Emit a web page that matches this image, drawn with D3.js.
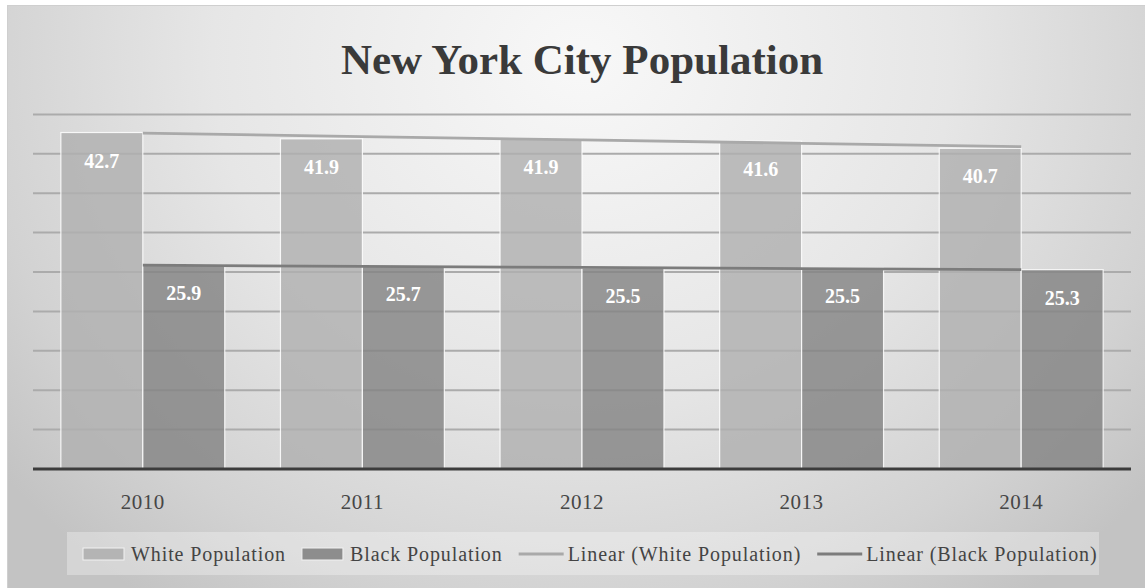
<!DOCTYPE html>
<html>
<head>
<meta charset="utf-8">
<script src="https://cdn.jsdelivr.net/npm/d3@7/dist/d3.min.js"></script>
<style>
  html, body { margin: 0; padding: 0; background: #ffffff; }
  svg { display: block; }
  text { font-family: "Liberation Serif", "Times New Roman", serif; }
</style>
</head>
<body>
<svg id="chart" width="1145" height="588"></svg>
<script>
// Chart data
const years = ["2010", "2011", "2012", "2013", "2014"];
const seriesNames = ["White Population", "Black Population"];
const whitePopulation = [42.7, 41.9, 41.9, 41.6, 40.7];
const blackPopulation = [25.9, 25.7, 25.5, 25.5, 25.3];
const yTicks = [0, 5, 10, 15, 20, 25, 30, 35, 40, 45];
const trendNames = ["Linear (White Population)", "Linear (Black Population)"];
const titleText = "New York City Population";

const W = 1145, H = 588;
const svg = d3.select("#chart");
const defs = svg.append("defs");

// Soft radial backdrop for the chart area
const grad = defs.append("radialGradient")
  .attr("id", "bg").attr("gradientUnits", "userSpaceOnUse")
  .attr("cx", 582).attr("cy", 60).attr("r", 740)
  .attr("gradientTransform", "translate(582,60) scale(1,0.9) translate(-582,-60)");
grad.append("stop").attr("offset", "0").attr("stop-color", "#f8f8f8");
grad.append("stop").attr("offset", "0.5").attr("stop-color", "#e6e6e6");
grad.append("stop").attr("offset", "0.82").attr("stop-color", "#d2d2d2");
grad.append("stop").attr("offset", "1").attr("stop-color", "#c3c3c3");

svg.append("rect")
  .attr("x", 7.5).attr("y", 5.5).attr("width", W).attr("height", H)
  .attr("fill", "url(#bg)")
  .attr("stroke", "#cfcfcf").attr("stroke-width", 1);

// Plot geometry
const plot = { left: 33, right: 1131, top: 114.4, bottom: 469 };

const x = d3.scaleBand().domain(years).range([plot.left, plot.right]).paddingInner(0).paddingOuter(0);
const xSub = d3.scaleBand().domain(seriesNames).range([0, x.bandwidth()]).paddingInner(0).paddingOuter(0.34);
const y = d3.scaleLinear().domain([0, 45]).range([plot.bottom, plot.top]);

// Horizontal gridlines
svg.append("g")
  .selectAll("line")
  .data(yTicks.filter(d => d > 0))
  .join("line")
  .attr("x1", plot.left).attr("x2", plot.right)
  .attr("y1", d => y(d)).attr("y2", d => y(d))
  .attr("stroke", "#ababab").attr("stroke-width", 2);

// Bars
const seriesValues = [whitePopulation, blackPopulation];
const barColors = ["#b0b0b0", "#848484"];
const barData = [];
years.forEach((yr, i) => {
  seriesNames.forEach((s, j) => barData.push({ year: yr, series: s, si: j, value: seriesValues[j][i] }));
});

svg.append("g")
  .selectAll("rect")
  .data(barData)
  .join("rect")
  .attr("x", d => x(d.year) + xSub(d.series))
  .attr("y", d => y(d.value))
  .attr("width", xSub.bandwidth())
  .attr("height", d => y(0) - y(d.value))
  .attr("fill", d => barColors[d.si])
  .attr("fill-opacity", 0.82)
  .attr("stroke", "#ffffff").attr("stroke-opacity", 0.85).attr("stroke-width", 1.2);

// Linear trendlines (least squares over category index)
function linearFit(vals) {
  const xs = vals.map((_, i) => i + 1);
  const mx = d3.mean(xs), my = d3.mean(vals);
  const slope = d3.sum(xs, (xv, i) => (xv - mx) * (vals[i] - my)) / d3.sum(xs, xv => (xv - mx) ** 2);
  const icpt = my - slope * mx;
  return xs.map(xv => icpt + slope * xv);
}
const trendColors = ["#a9a9a9", "#7c7c7c"];
const trendLine = d3.line()
  .x((d, i) => x(years[i]) + x.bandwidth() / 2)
  .y(d => y(d));

seriesValues.forEach((vals, j) => {
  svg.append("path")
    .datum(linearFit(vals))
    .attr("d", trendLine)
    .attr("fill", "none")
    .attr("stroke", trendColors[j])
    .attr("stroke-width", 2.8);
});

// Category axis baseline
svg.append("line")
  .attr("x1", plot.left).attr("x2", plot.right)
  .attr("y1", y(0)).attr("y2", y(0))
  .attr("stroke", "#3c3c3c").attr("stroke-width", 3);

// Category labels
const xAxis = d3.axisBottom(x).tickSize(0).tickPadding(0);
const gx = svg.append("g").attr("transform", `translate(0,${y(0)})`).call(xAxis);
gx.select(".domain").remove();
gx.selectAll("text")
  .attr("dy", 0).attr("y", 40)
  .attr("fill", "#464646")
  .style("font-size", "21px")
  .style("font-family", "'Liberation Serif', serif")
  .style("letter-spacing", "0.5px");

// Value labels inside bar ends
svg.append("g")
  .selectAll("text")
  .data(barData)
  .join("text")
  .attr("x", d => x(d.year) + xSub(d.series) + xSub.bandwidth() / 2)
  .attr("y", d => y(d.value) + 35)
  .attr("text-anchor", "middle")
  .attr("fill", "#ffffff")
  .style("font-size", "20px")
  .style("font-weight", "bold")
  .text(d => d.value.toFixed(1));

// Title
svg.append("text")
  .attr("x", 582).attr("y", 74)
  .attr("text-anchor", "middle")
  .attr("fill", "#3a3a3a")
  .style("font-size", "43px")
  .style("font-weight", "bold")
  .text(titleText);

// Legend
const legendItems = [
  { label: seriesNames[0], kind: "rect", color: barColors[0] },
  { label: seriesNames[1], kind: "rect", color: barColors[1] },
  { label: trendNames[0], kind: "line", color: trendColors[0] },
  { label: trendNames[1], kind: "line", color: trendColors[1] }
];
svg.append("rect")
  .attr("x", 67).attr("y", 532).attr("width", 1032).attr("height", 43)
  .attr("fill", "#ffffff").attr("fill-opacity", 0.3);

const lg = svg.append("g");
let cursor = 83;
legendItems.forEach(item => {
  const g = lg.append("g");
  if (item.kind === "rect") {
    g.append("rect")
      .attr("x", cursor).attr("y", 548).attr("width", 41).attr("height", 12)
      .attr("fill", item.color).attr("fill-opacity", 0.9)
      .attr("stroke", "#f2f2f2").attr("stroke-width", 1);
    cursor += 48;
  } else {
    g.append("line")
      .attr("x1", cursor).attr("x2", cursor + 45)
      .attr("y1", 554).attr("y2", 554)
      .attr("stroke", item.color).attr("stroke-width", 3);
    cursor += 49;
  }
  const t = g.append("text")
    .attr("x", cursor).attr("y", 561)
    .attr("fill", "#444444")
    .style("font-size", "20px")
    .style("letter-spacing", "0.9px")
    .text(item.label);
  cursor += t.node().getComputedTextLength() + 16;
});
</script>
</body>
</html>
